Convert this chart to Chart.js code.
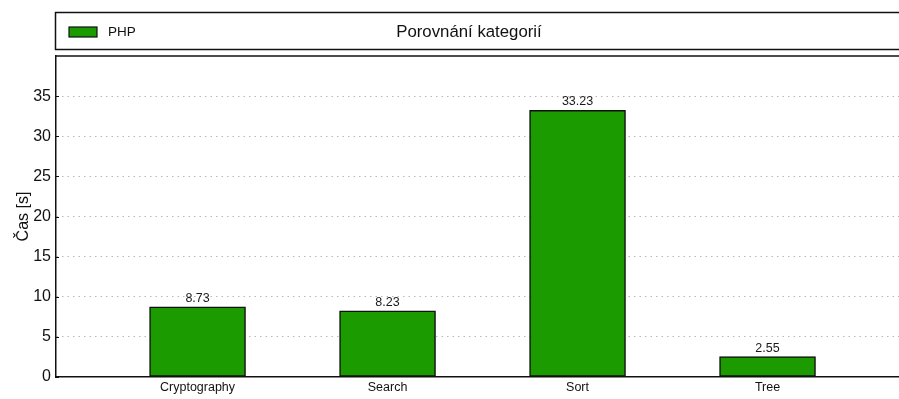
<!DOCTYPE html>
<html>
<head>
<meta charset="utf-8">
<script src="https://cdn.jsdelivr.net/npm/chart.js@4/dist/chart.umd.min.js"></script>
<style>
  body { margin: 0; background: #fff; }
  #wrap { width: 899px; height: 399px; position: relative; }
</style>
</head>
<body>
<div id="wrap"><canvas id="chart"></canvas></div>
<script>
const categories = ['Cryptography', 'Search', 'Sort', 'Tree'];
const phpTimes = [8.73, 8.23, 33.23, 2.55];
const yTicks = [0, 5, 10, 15, 20, 25, 30, 35];
const seriesName = 'PHP';
const chartTitle = 'Porovnání kategorií';
const yTitle = 'Čas [s]';

const FONT = "'Liberation Sans', Arial, sans-serif";
const GREEN = '#1b9b00';

// box with legend + title on top, frame line over the plot, value labels
const decorations = {
  id: 'decorations',
  afterDatasetsDraw(chart) {
    const ctx = chart.ctx;
    const area = chart.chartArea;
    const yScale = chart.scales.y;
    ctx.save();

    // value labels above bars
    ctx.fillStyle = '#1a1a1a';
    ctx.font = '12.5px ' + FONT;
    ctx.textAlign = 'center';
    ctx.textBaseline = 'alphabetic';
    const meta = chart.getDatasetMeta(0);
    meta.data.forEach((bar, i) => {
      ctx.fillText(phpTimes[i].toFixed(2), bar.x, bar.y - 5);
    });

    // small inner ticks on y axis
    ctx.strokeStyle = '#111';
    ctx.lineWidth = 1;
    yTicks.forEach(v => {
      const py = Math.round(yScale.getPixelForValue(v)) + 0.5;
      ctx.beginPath();
      ctx.moveTo(area.left, py);
      ctx.lineTo(area.left + 3, py);
      ctx.stroke();
    });

    // top frame line of plot
    ctx.lineWidth = 1.5;
    ctx.strokeStyle = '#111';
    ctx.beginPath();
    ctx.moveTo(area.left - 0.75, area.top);
    ctx.lineTo(chart.width, area.top);
    ctx.stroke();

    // header box
    ctx.strokeRect(area.left - 0.5, 12.5, chart.width, 37);

    // legend
    ctx.fillStyle = GREEN;
    ctx.fillRect(69, 27, 28, 10);
    ctx.lineWidth = 1.2;
    ctx.strokeRect(69, 27, 28, 10);
    ctx.fillStyle = '#111';
    ctx.font = '13.5px ' + FONT;
    ctx.textAlign = 'left';
    ctx.textBaseline = 'middle';
    ctx.fillText(chart.data.datasets[0].label, 108, 32);

    // title
    ctx.font = '16.8px ' + FONT;
    ctx.textAlign = 'center';
    ctx.fillText(chartTitle, 469, 32);
    ctx.restore();
  }
};

new Chart(document.getElementById('chart'), {
  type: 'bar',
  data: {
    datasets: [{
      label: seriesName,
      data: phpTimes.map((v, i) => ({ x: i, y: v })),
      backgroundColor: GREEN,
      borderColor: '#111',
      borderWidth: 1.5,
      borderSkipped: false,
      barThickness: 96
    }]
  },
  options: {
    responsive: true,
    maintainAspectRatio: false,
    animation: false,
    layout: { padding: { top: 56, left: 0, right: 0, bottom: 0 } },
    plugins: {
      legend: { display: false },
      title: { display: false },
      tooltip: { enabled: false }
    },
    scales: {
      x: {
        type: 'linear',
        offset: false,
        min: -0.745,
        max: 3.692,
        afterFit: s => { s.height = 22; },
        afterBuildTicks: s => { s.ticks = categories.map((c, i) => ({ value: i })); },
        grid: { display: false, drawTicks: false },
        border: { display: true, color: '#111', width: 1.5 },
        ticks: {
          autoSkip: false,
          maxRotation: 0,
          padding: 3,
          color: '#111',
          font: { family: FONT, size: 12.5 },
          callback: v => categories[v]
        }
      },
      y: {
        min: 0,
        max: 40,
        afterFit: s => { s.width = 56; },
        afterBuildTicks: s => { s.ticks = yTicks.concat([40]).map(v => ({ value: v })); },
        grid: {
          drawTicks: false,
          color: c => (c.tick && (c.tick.value === 0 || c.tick.value === 40)) ? 'rgba(0,0,0,0)' : '#b8b8b8',
          lineWidth: 1
        },
        border: { display: true, color: '#111', width: 1.5, dash: [1.5, 4] },
        title: {
          display: true,
          text: yTitle,
          color: '#111',
          font: { family: FONT, size: 16 },
          padding: { top: 14, bottom: 0 }
        },
        ticks: {
          padding: 5,
          color: '#111',
          font: { family: FONT, size: 16 },
          callback: v => (v === 40 ? '' : v)
        }
      }
    }
  },
  plugins: [decorations]
});
</script>
</body>
</html>
